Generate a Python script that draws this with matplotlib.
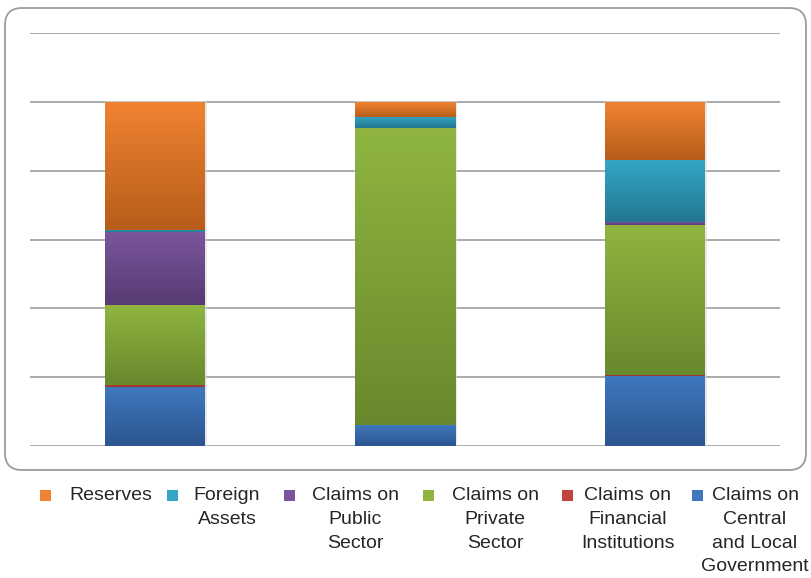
import matplotlib
matplotlib.use("Agg")
import matplotlib.pyplot as plt
import matplotlib.colors as mcolors
from matplotlib.patches import FancyBboxPatch, Rectangle
from matplotlib.transforms import IdentityTransform
import numpy as np

plt.rcParams['font.family'] = ['Liberation Sans', 'DejaVu Sans']

# shares of total assets (%), one value per bar, stacked bottom -> top
central_local = [17.0, 6.1, 20.2]
financial = [0.6, 0.0, 0.5]
private = [23.5, 86.2, 43.6]
public = [21.0, 0.0, 0.7]
foreign = [0.6, 3.4, 18.0]
reserves = [37.3, 4.3, 17.0]

series = [central_local, financial, private, public, foreign, reserves]
labels = ['Claims on\nCentral\nand Local\nGovernment',
          'Claims on\nFinancial\nInstitutions',
          'Claims on\nPrivate\nSector',
          'Claims on\nPublic\nSector',
          'Foreign\nAssets',
          'Reserves']
# (top colour, bottom colour) of each segment's vertical gradient
shades = [('#3f78bd', '#2c5590'),
          ('#c0453f', '#93302b'),
          ('#8fb540', '#68892d'),
          ('#7a559b', '#573b73'),
          ('#33a6c4', '#237790'),
          ('#f08331', '#b75d1a')]

W, H = 811, 578
fig = plt.figure(figsize=(W / 100, H / 100), dpi=100)

# rounded frame round the plot
frame = FancyBboxPatch((5, H - 470), 801, 462,
                       boxstyle="round,pad=0,rounding_size=17",
                       transform=IdentityTransform(), zorder=-1,
                       facecolor='white', edgecolor='#9c9c9c', linewidth=1.3)
fig.patches.append(frame)

ax = fig.add_axes([30 / W, (H - 446) / H, 750 / W, 413 / H])
ax.set_facecolor('none')
for s in ax.spines.values():
    s.set_visible(False)
ax.set_xticks([])
ax.set_yticks([])

for g in range(0, 121, 20):
    ax.axhline(g, color='#ababab', linewidth=1.4, zorder=1)

x = np.arange(len(reserves))
bottom = np.zeros(len(x))
t = np.linspace(0, 1, 64)[:, None]
for vals, (top_c, bot_c) in zip(series, shades):
    bars = ax.bar(x, vals, 0.4, bottom=bottom, color='none', zorder=2)
    c0 = np.array(mcolors.to_rgb(top_c))
    c1 = np.array(mcolors.to_rgb(bot_c))
    grad = (c0 * (1 - t) + c1 * t)[:, None, :]
    for p in bars.patches:
        if p.get_height() <= 0:
            continue
        x0, y0 = p.get_x(), p.get_y()
        im = ax.imshow(grad, extent=[x0, x0 + p.get_width(), y0, y0 + p.get_height()],
                       aspect='auto', origin='upper', zorder=3, interpolation='bilinear')
        im.set_clip_path(p)
    bottom += np.array(vals)

# faint shadow along bar edges
for xi in x:
    ax.add_patch(Rectangle((xi - 0.2, 0), 0.4 + 0.006, 100.3, facecolor='#d9d9d9',
                           edgecolor='none', zorder=1.5, alpha=0.6))

ax.set_xlim(-0.5, 2.5)
ax.set_ylim(0, 120)

# legend: square swatch + centred multi-line label
swatch_x = [45, 172, 289, 428, 567, 697]
text_cx = [111, 227, 355, 495, 628, 755]
for sx, tx, lab, (top_c, bot_c) in zip(swatch_x, text_cx, labels[::-1], shades[::-1]):
    fig.patches.append(Rectangle((sx - 5.5, H - 501), 11, 11, transform=IdentityTransform(),
                                 facecolor=top_c, edgecolor='none'))
    fig.text(tx / W, (H - 487) / H, lab, ha='center', va='top', multialignment='center',
             fontsize=14, color='#262626', linespacing=1.52)

fig.savefig('out.png', dpi=100)
